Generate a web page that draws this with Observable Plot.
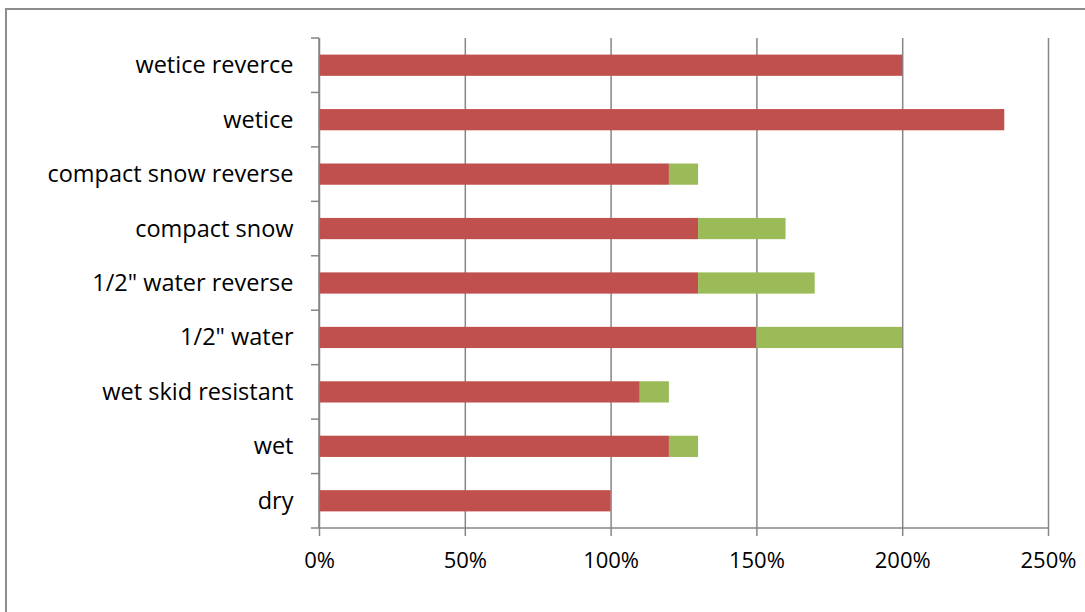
<!DOCTYPE html>
<html>
<head>
<meta charset="utf-8">
<script src="https://cdn.jsdelivr.net/npm/d3@7"></script>
<script src="https://cdn.jsdelivr.net/npm/@observablehq/plot@0.6"></script>
<style>
  html, body { margin: 0; padding: 0; background: #fff; overflow: hidden; }
  #wrap { position: relative; width: 1085px; height: 612px; }
  #border { position: absolute; left: 5px; top: 8px; width: 2000px; height: 2000px;
            border: 2px solid #8c8c8c; box-sizing: border-box; pointer-events: none; }
  #chart { position: absolute; left: 0; top: 0; }
</style>
</head>
<body>
<div id="wrap"><div id="border"></div><div id="chart"></div></div>
<script>
const categories = ["dry", "wet", "wet skid resistant", "1/2\" water", "1/2\" water reverse",
  "compact snow", "compact snow reverse", "wetice", "wetice reverce"];
const baseValues  = [1.00, 1.20, 1.10, 1.50, 1.30, 1.30, 1.20, 2.35, 2.00];
const extraValues = [0.00, 0.10, 0.10, 0.50, 0.40, 0.30, 0.10, 0.00, 0.00];
const seriesNames = ["base", "extra"];
const seriesColors = ["#C0504D", "#9BBB59"];
const xTicks = [0, 0.5, 1, 1.5, 2, 2.5];

const rows = [];
categories.forEach((c, i) => {
  rows.push({category: c, series: seriesNames[0], value: baseValues[i]});
  rows.push({category: c, series: seriesNames[1], value: extraValues[i]});
});

const yDomain = categories.slice().reverse();
const axisColor = "#868686";

function axisLines(index, scales, values, dims) {
  const y = scales.y, x = scales.x;
  const step = y.step(), bw = y.bandwidth();
  const top = y(yDomain[0]) - (step - bw) / 2;
  const g = d3.create("svg:g").attr("stroke", axisColor).attr("stroke-width", 1.5);
  const x0 = x(0);
  const bottom = dims.height - dims.marginBottom;
  g.append("line").attr("x1", x0).attr("x2", x0).attr("y1", dims.marginTop).attr("y2", bottom);
  g.append("line").attr("x1", x0 - 8).attr("x2", dims.width - dims.marginRight).attr("y1", bottom).attr("y2", bottom);
  for (let i = 0; i < yDomain.length; i++) {
    const yy = top + i * step;
    g.append("line").attr("x1", x0 - 8).attr("x2", x0).attr("y1", yy).attr("y2", yy);
  }
  return g.node();
}

const chart = Plot.plot({
  width: 1085,
  height: 612,
  marginLeft: 319,
  marginRight: 37,
  marginTop: 38,
  marginBottom: 84,
  style: {fontFamily: "'Open Sans', sans-serif", fontSize: "22px", color: "#000", background: "transparent"},
  x: {domain: [0, 2.5], label: null},
  y: {domain: yDomain, paddingInner: 0.61, paddingOuter: 0.305, round: false, label: null},
  color: {domain: seriesNames, range: seriesColors},
  marks: [
    Plot.gridX(xTicks, {stroke: axisColor, strokeOpacity: 1, strokeWidth: 1.5}),
    Plot.barX(rows, Plot.stackX({y: "category", x: "value", fill: "series", order: null})),
    axisLines,
    Plot.axisX(xTicks, {tickSize: 8, tickPadding: 16, stroke: axisColor, strokeWidth: 1.5, fill: "#000",
      fontSize: 22, tickFormat: d => Math.round(d * 100) + "%", label: null}),
    Plot.axisY({tickSize: 0, tickPadding: 26, fill: "#000", fontSize: 23.5, label: null})
  ]
});
document.getElementById("chart").appendChild(chart);
</script>
</body>
</html>
